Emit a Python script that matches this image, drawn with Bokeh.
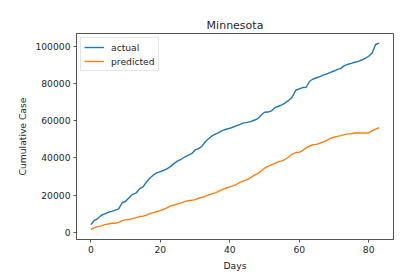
from bokeh.plotting import figure
from bokeh.models import FixedTicker, Range1d, Legend, LegendItem
from bokeh.embed import file_html
from bokeh.resources import INLINE

days = list(range(84))
actual = [4300, 6600, 7500, 9300, 10000, 10900, 11400, 12000, 12700, 16000,
          16800, 18700, 20500, 21200, 23400, 24500, 27100, 29300, 30900, 32000,
          32700, 33400, 34300, 35500, 37100, 38400, 39300, 40500, 41400, 42300,
          44300, 45000, 46300, 48800, 50400, 52000, 52900, 53800, 54800, 55400,
          55900, 56600, 57300, 58000, 58800, 59100, 59500, 60200, 61000, 62900,
          64500, 64600, 65200, 67000, 67700, 68400, 69500, 70900, 72700, 76300,
          77000, 77700, 77900, 81100, 82300, 83000, 83600, 84500, 85000, 85900,
          86600, 87500, 88000, 89500, 90200, 90700, 91300, 91800, 92500, 93400,
          94500, 96300, 100800, 101500]
predicted = [1600, 2700, 3200, 3600, 4300, 4600, 5000, 5000, 5500, 6400,
             6800, 7000, 7500, 8000, 8600, 8800, 9300, 10200, 10700, 11300,
             11800, 12500, 13400, 14300, 14800, 15400, 15900, 16600, 17100, 17300,
             17700, 18400, 18900, 19500, 20200, 20900, 21400, 22300, 23200, 23900,
             24500, 25000, 25900, 27000, 27700, 28400, 29500, 30700, 31600, 33000,
             34500, 35500, 36300, 37100, 37900, 38400, 39300, 40500, 42100, 42900,
             43000, 44100, 45400, 46400, 47100, 47300, 48000, 48600, 49500, 50500,
             51100, 51600, 52000, 52500, 52900, 53000, 53400, 53400, 53400, 53400,
             53400, 54500, 55500, 56200]
x_ticks = [0, 20, 40, 60, 80]
y_ticks = [0, 20000, 40000, 60000, 80000, 100000]

FONT = "DejaVu Sans"
TXT = "#262626"

p = figure(frame_width=317, frame_height=206, output_backend="svg",
           toolbar_location=None, title="Minnesota",
           min_border_left=76, min_border_right=15, min_border_top=33,
           min_border_bottom=28,
           x_range=Range1d(-4.15, 87.15), y_range=Range1d(-3700, 106700))

p.title.align = "center"
p.title.text_font = FONT
p.title.text_font_size = "11px"
p.title.text_font_style = "normal"
p.title.text_color = TXT
p.title.offset = 2
p.title.standoff = 3

p.xgrid.visible = False
p.ygrid.visible = False
p.outline_line_color = "#555555"
p.outline_line_width = 1
p.background_fill_color = "white"
p.border_fill_color = "white"

for ax in (p.xaxis[0], p.yaxis[0]):
    ax.axis_line_color = "#555555"
    ax.major_tick_line_color = "#555555"
    ax.major_tick_out = 3
    ax.major_tick_in = 0
    ax.minor_tick_line_color = None
    ax.major_label_text_font = FONT
    ax.major_label_text_font_size = "9.2px"
    ax.major_label_text_color = TXT
    ax.axis_label_text_font = FONT
    ax.axis_label_text_font_size = "9.2px"
    ax.axis_label_text_font_style = "normal"
    ax.axis_label_text_color = TXT
    ax.major_label_standoff = 3

p.xaxis.ticker = FixedTicker(ticks=x_ticks)
p.yaxis.ticker = FixedTicker(ticks=y_ticks)
p.yaxis.formatter.use_scientific = False
p.xaxis.axis_label = "Days"
p.yaxis.axis_label = "Cumulative Case"
p.xaxis.axis_label_standoff = 4
p.yaxis.axis_label_standoff = 4

r1 = p.line(days, actual, line_color="#1f77b4", line_width=1.4)
r2 = p.line(days, predicted, line_color="#ff7f0e", line_width=1.4)

legend = Legend(items=[LegendItem(label="actual", renderers=[r1]),
                       LegendItem(label="predicted", renderers=[r2])],
                location="top_left")
legend.margin = 4
legend.padding = 3
legend.spacing = 2
legend.glyph_width = 20
legend.glyph_height = 12
legend.label_standoff = 7
legend.label_text_font = FONT
legend.label_text_font_size = "9.2px"
legend.label_text_color = TXT
legend.label_height = 12
legend.border_line_color = "#cccccc"
legend.border_line_width = 1
legend.background_fill_alpha = 0.8
p.add_layout(legend)

open("out.html", "w").write(file_html(p, INLINE))
